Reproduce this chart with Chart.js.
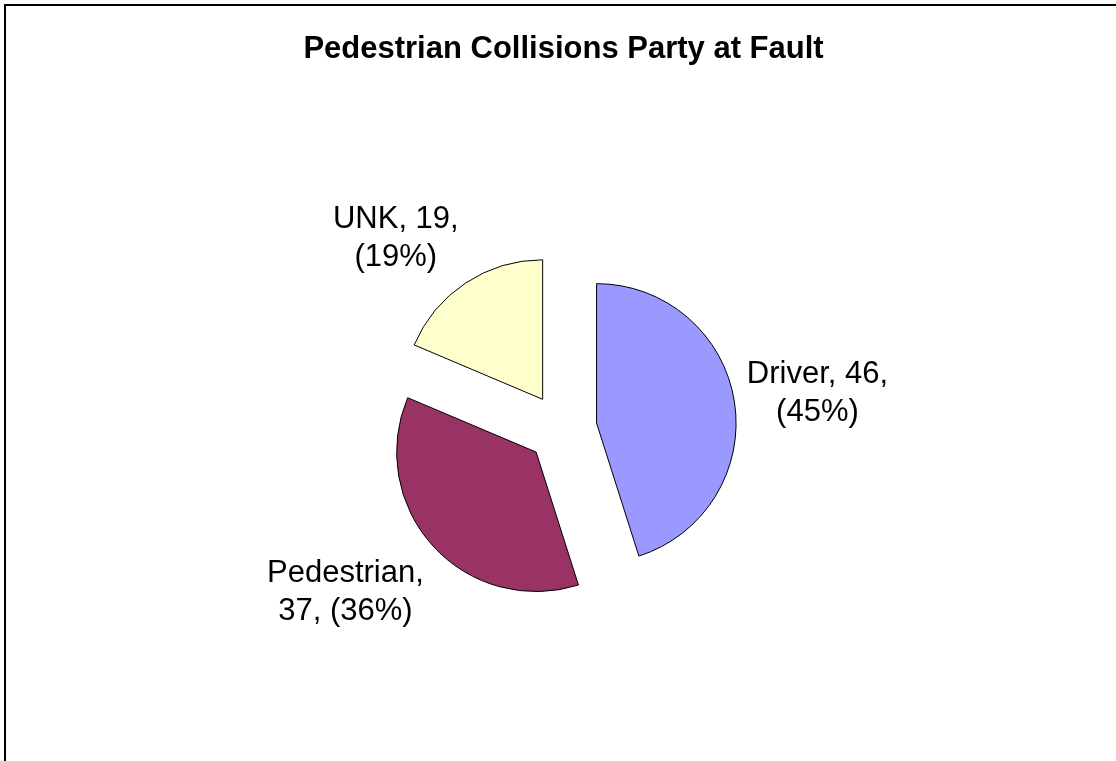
<!DOCTYPE html>
<html>
<head>
<meta charset="utf-8">
<script src="https://cdn.jsdelivr.net/npm/chart.js@4.4.1/dist/chart.umd.min.js"></script>
<style>
  html, body { margin: 0; padding: 0; background: #ffffff; overflow: hidden; }
  #wrap { width: 1116px; height: 761px; position: relative; }
</style>
</head>
<body>
<div id="wrap"><canvas id="c" width="1116" height="761"></canvas></div>
<script>
// ---- data ----
const chartTitle = 'Pedestrian Collisions Party at Fault';
const categories = ['Driver', 'Pedestrian', 'UNK'];
const counts = [46, 37, 19];
const sliceColors = ['#9999FF', '#993366', '#FFFFCC'];

// ---- style ----
const EXPLODE = 35;          // distance each slice is pulled out
const PIE_RADIUS = 139.5;
const LABEL_GAP = 12.5;
const LABEL_WRAP = 170;
const LABEL_FONT = '31px "Liberation Sans", Arial, sans-serif';
const TITLE_FONT = 'bold 31px "Liberation Sans", Arial, sans-serif';
const LINE_H = 38, ASC = 28, DESC = 7;

const total = counts.reduce((a, b) => a + b, 0);

function labelText(i) {
  const pct = Math.round(counts[i] / total * 100);
  return categories[i] + ', ' + counts[i] + ', (' + pct + '%)';
}

function wrap(ctx, text, maxW) {
  const words = text.split(' ');
  const lines = [];
  let cur = '';
  words.forEach(w => {
    const test = cur ? cur + ' ' + w : w;
    if (cur && ctx.measureText(test).width > maxW) {
      lines.push(cur);
      cur = w;
    } else {
      cur = test;
    }
  });
  if (cur) lines.push(cur);
  return lines;
}

const clamp = v => Math.max(-1, Math.min(1, v));

const explodePlugin = {
  id: 'explode',
  beforeDatasetDraw(chart, args) {
    const ctx = chart.ctx;
    args.meta.data.forEach(arc => {
      const mid = (arc.startAngle + arc.endAngle) / 2;
      ctx.save();
      ctx.translate(Math.cos(mid) * EXPLODE, Math.sin(mid) * EXPLODE);
      arc.draw(ctx);
      ctx.restore();
    });
    return false;
  },
  afterDraw(chart) {
    const ctx = chart.ctx;
    const area = chart.chartArea;
    ctx.save();
    // frame
    ctx.fillStyle = '#000000';
    ctx.fillRect(4, 4, chart.width, 2);
    ctx.fillRect(4, 4, 2, chart.height);
    // title
    ctx.font = TITLE_FONT;
    ctx.textAlign = 'center';
    ctx.textBaseline = 'alphabetic';
    ctx.fillText(chartTitle, (area.left + area.right) / 2 + 1.5, 58);
    // data labels
    ctx.font = LABEL_FONT;
    const meta = chart.getDatasetMeta(0);
    meta.data.forEach((arc, i) => {
      const mid = (arc.startAngle + arc.endAngle) / 2;
      const ux = Math.cos(mid), uy = Math.sin(mid);
      const ax = arc.x + ux * (EXPLODE + arc.outerRadius + LABEL_GAP);
      const ay = arc.y + uy * (EXPLODE + arc.outerRadius + LABEL_GAP);
      const lines = wrap(ctx, labelText(i), LABEL_WRAP);
      const w = Math.max(...lines.map(l => ctx.measureText(l).width));
      const h = LINE_H * (lines.length - 1) + ASC + DESC;
      const sx = clamp(2 * ux), sy = clamp(1.5 * uy);
      const left = ax - w * (1 - sx) / 2;
      const top = ay - h * (1 - sy) / 2;
      ctx.textAlign = 'center';
      lines.forEach((l, k) => {
        ctx.fillText(l, left + w / 2, top + ASC + k * LINE_H);
      });
    });
    ctx.restore();
  }
};

new Chart(document.getElementById('c'), {
  type: 'pie',
  data: {
    labels: categories,
    datasets: [{
      data: counts,
      backgroundColor: sliceColors,
      borderColor: '#000000',
      borderWidth: 1,
      borderJoinStyle: 'miter',
      radius: PIE_RADIUS
    }]
  },
  options: {
    responsive: false,
    animation: false,
    events: [],
    layout: { padding: { top: 96, left: 8, right: 0, bottom: 0 } },
    plugins: {
      legend: { display: false },
      tooltip: { enabled: false },
      title: { display: false }
    }
  },
  plugins: [explodePlugin]
});
</script>
</body>
</html>
